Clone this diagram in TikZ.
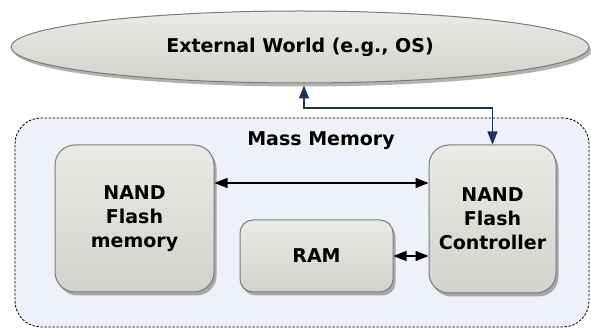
\documentclass[tikz,border=0pt]{standalone}
\usepackage{fontspec}
\setmainfont{DejaVu Sans}
\usetikzlibrary{shadows,arrows.meta,shapes.geometric}
\definecolor{boxtop}{HTML}{EAEAE6}
\definecolor{boxbot}{HTML}{D2D3CD}
\definecolor{boxline}{HTML}{7A7A7A}
\definecolor{massfill}{HTML}{EEF1FA}
\definecolor{navy}{HTML}{1C3556}
\begin{document}
\begin{tikzpicture}[x=1pt,y=-1pt,
  lbl/.style={font=\fontsize{19}{24}\selectfont\bfseries, align=center},
  blockbox/.style={draw=boxline, line width=1pt, top color=boxtop, bottom color=boxbot,
    drop shadow={shadow xshift=2.5pt, shadow yshift=-3.5pt, opacity=0.3, fill=black},
    inner sep=0pt, lbl},
  dbl/.style={{Triangle[length=13pt,width=10pt]}-{Triangle[length=13pt,width=10pt]}, line width=1.1pt},
]
\useasboundingbox (0,0) rectangle (591,328);
\fill[white] (0,0) rectangle (591,328);

\node[draw=black, line width=0.8pt, dash pattern=on 2.5pt off 1.5pt, fill=massfill,
  rounded corners=26pt, minimum width=574pt, minimum height=209pt, inner sep=0pt]
  (mass) at (302,222.5) {};
\node[lbl] (masslbl) at (321,141) {Mass Memory};

\node[blockbox, ellipse, minimum width=578pt, minimum height=72pt] (ell) at (300,47)
  {External World (e.g., OS)};

\node[blockbox, rounded corners=20pt, minimum width=159pt, minimum height=147pt]
  (flash) at (134.5,218.5) {NAND\\Flash\\memory};
\node[blockbox, rounded corners=20pt, minimum width=127pt, minimum height=148pt]
  (ctrl) at (492.5,219) {NAND\\Flash\\Controller};
\node[blockbox, rounded corners=13pt, minimum width=153pt, minimum height=72pt]
  (ram) at (316.5,256) {RAM};

\draw[dbl] ([yshift=35.5pt]flash.east) -- ([yshift=35.5pt]flash.east -| ctrl.west);
\draw[dbl] (ram.east) -- (ram.east -| ctrl.west);

\coordinate (bend) at (304,108);
\draw[dbl, navy, line width=1.4pt] (ctrl.north) |- (bend) -- ([xshift=4pt,yshift=-2pt]ell.south);
\end{tikzpicture}
\end{document}
